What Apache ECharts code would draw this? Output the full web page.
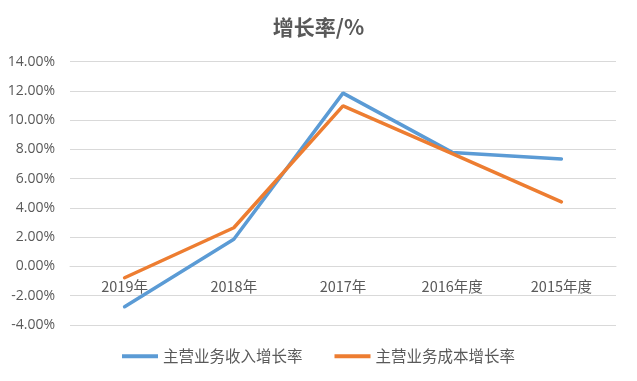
<!DOCTYPE html>
<html><head><meta charset="utf-8">
<script src="https://cdn.jsdelivr.net/npm/echarts@6/dist/echarts.min.js"></script>
<style>html,body{margin:0;padding:0;background:#fff}#c{width:637px;height:381px}</style>
</head><body><div id="c"></div>
<script>
const categories = ['2019年','2018年','2017年','2016年度','2015年度'];
const revenueGrowth = [-2.75, 1.86, 11.85, 7.8, 7.35];
const costGrowth = [-0.77, 2.65, 10.98, 7.72, 4.42];
const seriesNames = ['主营业务收入增长率','主营业务成本增长率'];
const yMin = -4, yMax = 14, yStep = 2;

const gridTop = 61.7, gridBottomY = 325;
const zeroY = gridBottomY - (0 - yMin) / (yMax - yMin) * (gridBottomY - gridTop);

const chart = echarts.init(document.getElementById('c'));
chart.setOption({
  animation:false,
  title:{text:'增长率/%',left:'center',top:12,textStyle:{fontFamily:'Noto Sans CJK SC',fontSize:21,fontWeight:'bold',color:'#595959'}},
  grid:{left:70,right:21,top:gridTop,bottom:381-gridBottomY},
  legend:{bottom:12,left:'center',itemWidth:36,itemHeight:4,itemGap:32,icon:'rect',
    textStyle:{fontFamily:'Noto Sans CJK SC',fontSize:15.5,color:'#595959'},data:seriesNames},
  xAxis:{type:'category',data:categories,boundaryGap:true,
    offset:-(gridBottomY - zeroY),
    axisLine:{show:true,onZero:false,lineStyle:{color:'#d9d9d9',width:1}},axisTick:{show:false},
    axisLabel:{margin:13,fontFamily:'Noto Sans CJK SC',fontSize:14.5,color:'#595959'}},
  yAxis:{type:'value',min:yMin,max:yMax,interval:yStep,
    axisLine:{show:false},axisTick:{show:false},
    axisLabel:{margin:15,fontFamily:'Open Sans',fontSize:14,color:'#595959',formatter:v=>v.toFixed(2)+'%'},
    splitLine:{lineStyle:{color:'#d9d9d9',width:1}}},
  series:[
    {name:seriesNames[0],type:'line',data:revenueGrowth,showSymbol:false,symbol:'none',
      lineStyle:{color:'#5B9BD5',width:3.5,cap:'round'},itemStyle:{color:'#5B9BD5'}},
    {name:seriesNames[1],type:'line',data:costGrowth,showSymbol:false,symbol:'none',
      lineStyle:{color:'#ED7D31',width:3.5,cap:'round'},itemStyle:{color:'#ED7D31'}}
  ]
});
</script></body></html>
